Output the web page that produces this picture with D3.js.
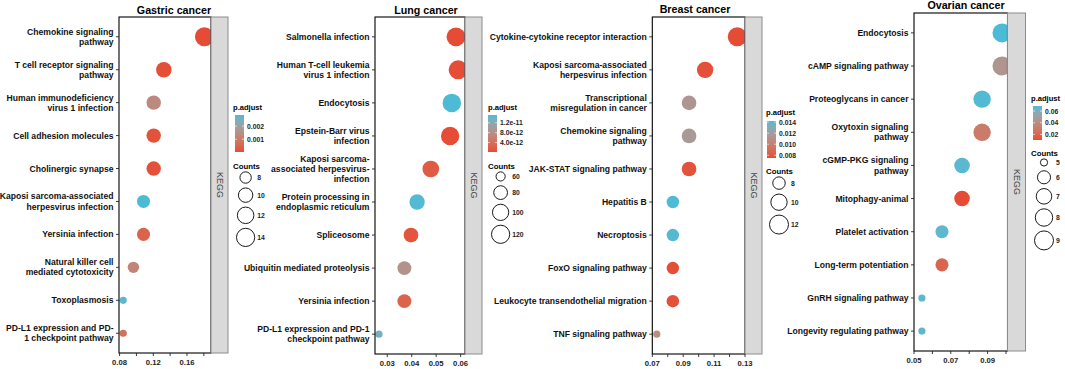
<!DOCTYPE html>
<html><head><meta charset="utf-8">
<script src="https://cdn.jsdelivr.net/npm/d3@7/dist/d3.min.js"></script>
<style>
body{margin:0;background:#fff}
svg{display:block}
text{font-family:"Liberation Sans",Arial,Helvetica,sans-serif}
</style>
</head><body>
<svg id="chart" width="1065" height="369"></svg>
<script>
// ---------------- DATA ----------------
const gastricTerms = ["Chemokine signaling\npathway","T cell receptor signaling\npathway","Human immunodeficiency\nvirus 1 infection","Cell adhesion molecules","Cholinergic synapse","Kaposi sarcoma-associated\nherpesvirus infection","Yersinia infection","Natural killer cell\nmediated cytotoxicity","Toxoplasmosis","PD-L1 expression and PD-\n1 checkpoint pathway"];
const gastricRatio = [0.1807, 0.1325, 0.1205, 0.1205, 0.1205, 0.1084, 0.1084, 0.0964, 0.0843, 0.0843];
const gastricCounts = [15, 11, 10, 10, 10, 9, 9, 8, 7, 7];
const gastricPadj = [0.00003, 0.00010, 0.00135, 0.00015, 0.00012, 0.00285, 0.00045, 0.00125, 0.00275, 0.00070];
const gastricXDomain = [0.0793, 0.1885];
const gastricTicks = [0.08, 0.10, 0.12, 0.14, 0.16, 0.18];
const gastricTickLabels = ["0.08", "", "0.12", "", "0.16", ""];
const gastricPadjBreaks = [0.001, 0.002];
const gastricPadjLabels = ["0.001", "0.002"];
const gastricCountBreaks = [8, 10, 12, 14];

const lungTerms = ["Salmonella infection","Human T-cell leukemia\nvirus 1 infection","Endocytosis","Epstein-Barr virus\ninfection","Kaposi sarcoma-\nassociated herpesvirus-\ninfection","Protein processing in\nendoplasmic reticulum","Spliceosome","Ubiquitin mediated proteolysis","Yersinia infection","PD-L1 expression and PD-1\ncheckpoint pathway"];
const lungRatio = [0.0581, 0.0590, 0.0564, 0.0557, 0.0478, 0.0422, 0.0397, 0.0370, 0.0370, 0.0266];
const lungCounts = [127, 129, 123, 121, 104, 92, 87, 81, 81, 58];
const lungPadj = [1.0e-13, 3.0e-13, 1.52e-11, 2.0e-13, 1.5e-12, 1.5e-11, 1.0e-12, 8.5e-12, 2.5e-12, 1.35e-11];
const lungXDomain = [0.02497, 0.0618];
const lungTicks = [0.03, 0.04, 0.05, 0.06];
const lungTickLabels = ["0.03", "0.04", "0.05", "0.06"];
const lungPadjBreaks = [4.0e-12, 8.0e-12, 1.2e-11];
const lungPadjLabels = ["4.0e-12", "8.0e-12", "1.2e-11"];
const lungCountBreaks = [60, 80, 100, 120];

const breastTerms = ["Cytokine-cytokine receptor interaction","Kaposi sarcoma-associated\nherpesvirus infection","Transcriptional\nmisregulation in cancer","Chemokine signaling\npathway","JAK-STAT signaling pathway","Hepatitis B","Necroptosis","FoxO signaling pathway","Leukocyte transendothelial migration","TNF signaling pathway"];
const breastRatio = [0.1250, 0.1042, 0.0938, 0.0938, 0.0938, 0.0833, 0.0833, 0.0833, 0.0833, 0.0729];
const breastCounts = [12, 10, 9, 9, 9, 8, 8, 8, 8, 7];
const breastPadj = [0.0075, 0.0077, 0.0115, 0.0117, 0.0078, 0.0142, 0.0141, 0.0076, 0.0077, 0.0108];
const breastXDomain = [0.07, 0.13];
const breastTicks = [0.07, 0.08, 0.09, 0.10, 0.11, 0.12, 0.13];
const breastTickLabels = ["0.07", "", "0.09", "", "0.11", "", "0.13"];
const breastPadjBreaks = [0.008, 0.010, 0.012, 0.014];
const breastPadjLabels = ["0.008", "0.010", "0.012", "0.014"];
const breastCountBreaks = [8, 10, 12];

const ovarianTerms = ["Endocytosis","cAMP signaling pathway","Proteoglycans in cancer","Oxytoxin signaling\npathway","cGMP-PKG signaling\npathway","Mitophagy-animal","Platelet activation","Long-term potentiation","GnRH signaling pathway","Longevity regulating pathway"];
const ovarianRatio = [0.0978, 0.0978, 0.0870, 0.0870, 0.0761, 0.0761, 0.0652, 0.0652, 0.0543, 0.0543];
const ovarianCounts = [9, 9, 8, 8, 7, 7, 6, 6, 5, 5];
const ovarianPadj = [0.0687, 0.0440, 0.0680, 0.0300, 0.0670, 0.0104, 0.0660, 0.0200, 0.0670, 0.0660];
const ovarianXDomain = [0.05, 0.1008];
const ovarianTicks = [0.05, 0.06, 0.07, 0.08, 0.09, 0.10];
const ovarianTickLabels = ["0.05", "", "0.07", "", "0.09", ""];
const ovarianPadjBreaks = [0.02, 0.04, 0.06];
const ovarianPadjLabels = ["0.02", "0.04", "0.06"];
const ovarianCountBreaks = [5, 6, 7, 8, 9];

const titles = ["Gastric cancer", "Lung cancer", "Breast cancer", "Ovarian cancer"];
const stripLabel = "KEGG";

// ---------------- LAYOUT ----------------
const layouts = [
  {x0:119, x1:211, sw:17, y0:17, y1:353, tx:174, ty:14, lx:233, pTitleY:110, cbX:235, cbY0:115, cbY1:152, cTitleY:169},
  {x0:375, x1:465, sw:17, y0:17, y1:354, tx:426, ty:13.5, lx:488, pTitleY:110, cbX:488, cbY0:115, cbY1:152, cTitleY:169},
  {x0:652.3, x1:745, sw:17, y0:17, y1:354, tx:695, ty:13, lx:766, pTitleY:115, cbX:767, cbY0:121, cbY1:158, cTitleY:174},
  {x0:914, x1:1007.5, sw:18, y0:13, y1:351, tx:966, ty:8.5, lx:1031, pTitleY:101, cbX:1033, cbY0:106, cbY1:140, cTitleY:156}
];

const panels = [
  {terms:gastricTerms, ratio:gastricRatio, counts:gastricCounts, padj:gastricPadj, xd:gastricXDomain, ticks:gastricTicks, tl:gastricTickLabels, pb:gastricPadjBreaks, pl:gastricPadjLabels, cb:gastricCountBreaks},
  {terms:lungTerms, ratio:lungRatio, counts:lungCounts, padj:lungPadj, xd:lungXDomain, ticks:lungTicks, tl:lungTickLabels, pb:lungPadjBreaks, pl:lungPadjLabels, cb:lungCountBreaks},
  {terms:breastTerms, ratio:breastRatio, counts:breastCounts, padj:breastPadj, xd:breastXDomain, ticks:breastTicks, tl:breastTickLabels, pb:breastPadjBreaks, pl:breastPadjLabels, cb:breastCountBreaks},
  {terms:ovarianTerms, ratio:ovarianRatio, counts:ovarianCounts, padj:ovarianPadj, xd:ovarianXDomain, ticks:ovarianTicks, tl:ovarianTickLabels, pb:ovarianPadjBreaks, pl:ovarianPadjLabels, cb:ovarianCountBreaks}
];

const LOW = "#E64B35", HIGH = "#4DBBD5";
const R_MIN = 3.6, R_MAX = 9.5;
const svg = d3.select("#chart");
const defs = svg.append("defs");

panels.forEach((p, i) => {
  const L = layouts[i];
  const g = svg.append("g");
  const x = d3.scaleLinear().domain(p.xd).range([L.x0, L.x1]);
  const y = d3.scalePoint().domain(p.terms).range([L.y0, L.y1]).padding(0.6);
  const pExt = d3.extent(p.padj);
  const color = d3.scaleLinear().domain(pExt).range([LOW, HIGH]).interpolate(d3.interpolateLab);
  const cExt = d3.extent(p.counts);
  const tScale = d3.scaleLinear().domain(cExt).range([0, 1]).clamp(true);
  const rScale = d3.scaleLinear().domain([0, 1]).range([R_MIN, R_MAX]);
  const size = c => rScale(Math.sqrt(tScale(c)));

  g.append("rect").attr("x", L.x0).attr("y", L.y0).attr("width", L.x1 - L.x0).attr("height", L.y1 - L.y0).attr("fill", "#fff");

  const cid = "clip" + i;
  defs.append("clipPath").attr("id", cid).append("rect")
    .attr("x", L.x0).attr("y", L.y0).attr("width", L.x1 - L.x0).attr("height", L.y1 - L.y0);

  const data = p.terms.map((t, k) => ({term:t, ratio:p.ratio[k], count:p.counts[k], padj:p.padj[k]}));
  g.append("g").attr("clip-path", `url(#${cid})`).selectAll("circle").data(data).join("circle")
    .attr("cx", d => x(d.ratio)).attr("cy", d => y(d.term)).attr("r", d => size(d.count))
    .attr("fill", d => color(d.padj));

  g.append("rect").attr("x", L.x0).attr("y", L.y0).attr("width", L.x1 - L.x0).attr("height", L.y1 - L.y0)
    .attr("fill", "none").attr("stroke", "#000").attr("stroke-width", 1.1);

  g.append("rect").attr("x", L.x1).attr("y", L.y0).attr("width", L.sw).attr("height", L.y1 - L.y0)
    .attr("fill", "#D9D9D9").attr("stroke", "#8c8c8c").attr("stroke-width", 1);
  const scx = L.x1 + L.sw / 2, scy = (L.y0 + L.y1) / 2;
  g.append("text").attr("transform", `translate(${scx},${scy}) rotate(90)`)
    .attr("text-anchor", "middle").attr("dominant-baseline", "central")
    .attr("font-size", 9).attr("fill", "#444").text(stripLabel);

  const yg = g.append("g");
  p.terms.forEach(t => {
    const yy = y(t);
    yg.append("line").attr("x1", L.x0 - 3).attr("x2", L.x0).attr("y1", yy).attr("y2", yy)
      .attr("stroke", "#222").attr("stroke-width", 0.9);
    const lines = t.split("\n");
    const lh = 10.2;
    const txt = yg.append("text").attr("text-anchor", "end").attr("font-size", 8.6).attr("font-weight", "bold").attr("fill", "#111");
    lines.forEach((ln, j) => {
      txt.append("tspan").attr("x", L.x0 - 5.5)
        .attr("y", yy + (j - (lines.length - 1) / 2) * lh + 3).text(ln);
    });
  });

  const xg = g.append("g");
  p.ticks.forEach((v, k) => {
    const xx = x(v);
    xg.append("line").attr("x1", xx).attr("x2", xx).attr("y1", L.y1).attr("y2", L.y1 + 3)
      .attr("stroke", "#222").attr("stroke-width", 0.9);
    if (p.tl[k]) {
      xg.append("text").attr("x", xx).attr("y", L.y1 + 12).attr("text-anchor", "middle")
        .attr("font-size", 7.7).attr("font-weight", "bold").attr("fill", "#222").text(p.tl[k]);
    }
  });

  g.append("text").attr("x", L.tx).attr("y", L.ty).attr("text-anchor", "middle")
    .attr("font-size", 10.7).attr("font-weight", "bold").attr("fill", "#000").text(titles[i]);

  g.append("text").attr("x", L.lx).attr("y", L.pTitleY).attr("font-size", 7.6).attr("font-weight", "bold").attr("fill", "#000").text("p.adjust");
  const gid = "grad" + i;
  const grad = defs.append("linearGradient").attr("id", gid).attr("x1", 0).attr("x2", 0).attr("y1", 1).attr("y2", 0);
  d3.range(0, 1.0001, 0.1).forEach(f => {
    grad.append("stop").attr("offset", f).attr("stop-color", color(pExt[0] + f * (pExt[1] - pExt[0])));
  });
  const cbW = 9;
  g.append("rect").attr("x", L.cbX).attr("y", L.cbY0).attr("width", cbW).attr("height", L.cbY1 - L.cbY0).attr("fill", `url(#${gid})`);
  const cy = d3.scaleLinear().domain(pExt).range([L.cbY1, L.cbY0]);
  p.pb.forEach((b, k) => {
    const yy = cy(b);
    g.append("line").attr("x1", L.cbX).attr("x2", L.cbX + 2).attr("y1", yy).attr("y2", yy).attr("stroke", "#fff").attr("stroke-width", 0.6);
    g.append("line").attr("x1", L.cbX + cbW - 2).attr("x2", L.cbX + cbW).attr("y1", yy).attr("y2", yy).attr("stroke", "#fff").attr("stroke-width", 0.6);
    g.append("text").attr("x", L.cbX + cbW + 3).attr("y", yy).attr("dominant-baseline", "central")
      .attr("font-size", 6.8).attr("font-weight", "bold").attr("fill", "#222").text(p.pl[k]);
  });

  g.append("text").attr("x", L.lx).attr("y", L.cTitleY).attr("font-size", 7.8).attr("font-weight", "bold").attr("fill", "#000").text("Counts");
  const rMaxLeg = d3.max(p.cb, size);
  const kcx = L.lx + 3.5 + rMaxLeg;
  let top = L.cTitleY + 0.5;
  p.cb.forEach(b => {
    const r = size(b);
    const h = 2 * r + 4.7;
    const ccy = top + h / 2;
    g.append("circle").attr("cx", kcx).attr("cy", ccy).attr("r", r).attr("fill", "none").attr("stroke", "#000").attr("stroke-width", 0.9);
    g.append("text").attr("x", kcx + rMaxLeg + 2.5).attr("y", ccy).attr("dominant-baseline", "central")
      .attr("font-size", 6.8).attr("font-weight", "bold").attr("fill", "#222").text(b);
    top += h;
  });
});
</script>
</body></html>
